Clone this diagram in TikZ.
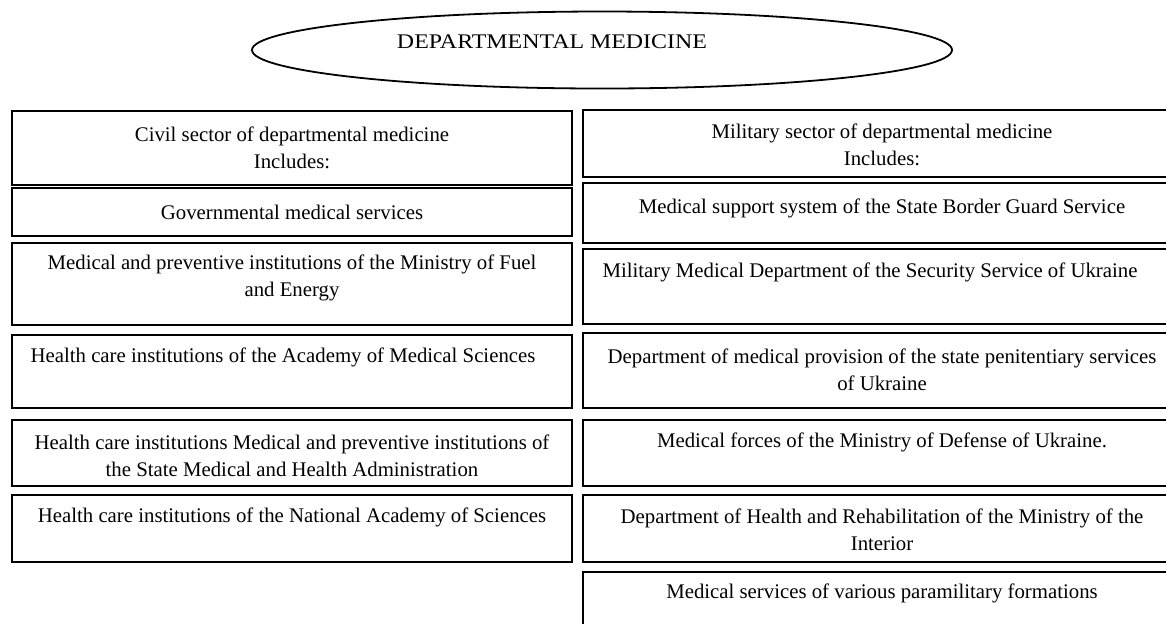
\documentclass[tikz,border=0pt]{standalone}
\usepackage{fontspec}
\setmainfont{Liberation Serif}
\usetikzlibrary{shapes.geometric}
\begin{document}
\begin{tikzpicture}[x=0.5pt,y=-0.5pt,
  box/.style={draw=black,line width=0.9pt,rectangle,inner sep=0pt,outer sep=0pt},
  lbox/.style={box,minimum width=280pt},
  rbox/.style={box,minimum width=299pt},
  txt/.style={inner sep=0pt,align=center,font=\fontsize{10.4}{13.5}\selectfont},
  oval/.style={draw=black,line width=0.9pt,ellipse,inner sep=0pt,minimum width=350pt,minimum height=38.5pt}]
\useasboundingbox (0,0) rectangle (1166,623);
\clip (0,0) rectangle (1166,623);
\fill[white] (0,0) rectangle (1166,623);
% title
\node[oval] (dm) at (602,50) {};
\node[txt] (dmt) at (552,42) {\scalebox{1.15}[1]{DEPARTMENTAL MEDICINE}};
% left column
\node[lbox,minimum height=37pt]   (L1) at (292,148) {};
\node[lbox,minimum height=24pt]   (L2) at (292,212) {};
\node[lbox,minimum height=41pt]   (L3) at (292,284) {};
\node[lbox,minimum height=36.5pt] (L4) at (292,371.5) {};
\node[lbox,minimum height=33pt]   (L5) at (292,453) {};
\node[lbox,minimum height=33.5pt] (L6) at (292,528.5) {};
\node[txt] (tL1) at (292,147.5) {Civil sector of departmental medicine\\Includes:};
\node[txt] (tL2) at (292,212) {Governmental medical services};
\node[txt] (tL3) at (292,278) {Medical and preventive institutions of the Ministry of Fuel\\and Energy};
\node[txt] (tL4) at (283,357) {Health care institutions of the Academy of Medical Sciences};
\node[txt] (tL5) at (292,455.5) {Health care institutions Medical and preventive institutions of\\the State Medical and Health Administration};
\node[txt] (tL6) at (292,517) {Health care institutions of the National Academy of Sciences};
% right column
\node[rbox,minimum height=33.5pt] (R1) at (882,143.5) {};
\node[rbox,minimum height=30pt]   (R2) at (882,213) {};
\node[rbox,minimum height=37.5pt] (R3) at (882,286.5) {};
\node[rbox,minimum height=37.5pt] (R4) at (882,370.5) {};
\node[rbox,minimum height=33pt]   (R5) at (882,453) {};
\node[rbox,minimum height=33.5pt] (R6) at (882,528.5) {};
\node[rbox,minimum height=34pt]   (R7) at (882,606) {};
\node[txt] (tR1) at (882,145) {Military sector of departmental medicine\\Includes:};
\node[txt] (tR2) at (882,208) {Medical support system of the State Border Guard Service};
\node[txt] (tR3) at (870,272) {Military Medical Department of the Security Service of Ukraine};
\node[txt] (tR4) at (882,370) {Department of medical provision of the state penitentiary services\\of Ukraine};
\node[txt] (tR5) at (882,442) {Medical forces of the Ministry of Defense of Ukraine.};
\node[txt] (tR6) at (882,529.5) {Department of Health and Rehabilitation of the Ministry of the\\Interior};
\node[txt] (tR7) at (882,593) {Medical services of various paramilitary formations};
\end{tikzpicture}
\end{document}
